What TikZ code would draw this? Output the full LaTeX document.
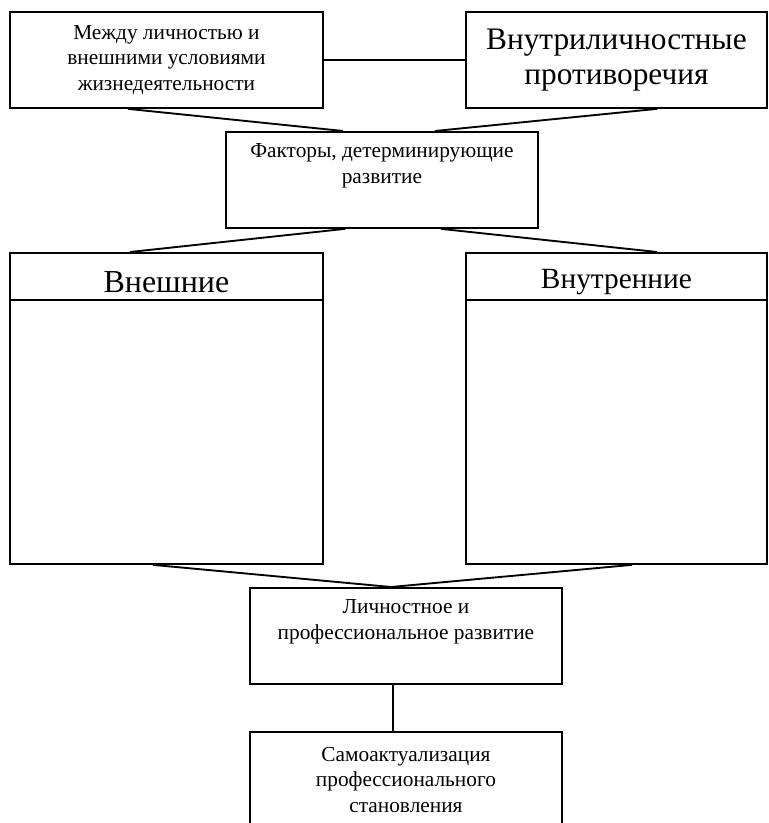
\documentclass[tikz,border=0pt]{standalone}
\usepackage{fontspec}
\setmainfont{Liberation Serif}
\usetikzlibrary{calc}
\newcommand{\px}{0.75pt}
\tikzset{
	box/.style={draw, line width=1.4pt, anchor=north west, align=center, inner sep=0pt, minimum width=312*\px, minimum height=96*\px},
	headbox/.style={box, minimum height=47*\px, text depth=0pt},
	smalltxt/.style={font=\fontsize{16}{19}\selectfont},
	bigtxt/.style={font=\fontsize{23.5}{26.5}\selectfont},
	conn/.style={draw, line width=1.4pt}
}

\begin{document}
\begin{tikzpicture}[x=0.75pt, y=-0.75pt]
	\useasboundingbox (0,0) rectangle (768,823);
	\clip (0,0) rectangle (768,823);
	% top row
	\node [box, smalltxt, minimum width=313*\px] (lich) at (9,11) {Между личностью и\\внешними условиями\\жизнедеятельности};
	\node [box, bigtxt, minimum width=301*\px] (vnutr) at (465,11) {Внутриличностные\\противоречия};
	\node [box, smalltxt] (fact) at (225,131) {Факторы, детерминирующие\\развитие\\\strut};
	% factor columns
	\node [headbox, font=\fontsize{24}{28}\selectfont, text height=24.8pt, minimum width=313*\px] (extHead) at (9,252) {Внешние};
	\node [box, minimum width=313*\px, minimum height=264*\px] (ext) at (9,299) {};
	\node [headbox, font=\fontsize{22}{26}\selectfont, text height=18.8pt, minimum width=301*\px] (intHead) at (465,252) {Внутренние};
	\node [box, minimum width=301*\px, minimum height=264*\px] (int) at (465,299) {};
	% result
	\node [box, smalltxt] (razv) at (249,587) {Личностное и\\профессиональное развитие\\\strut};
	\node [box, smalltxt] (samo) at (249,731) {Самоактуализация\\профессионального\\становления};

	\path [conn] (lich) -- (vnutr);
	\path [conn] ($(lich.south west)+(119,0)$) -- ($(fact.north west)+(118,0)$);
	\path [conn] ($(vnutr.south west)+(192,0)$) -- ($(fact.north west)+(210,0)$);
	\path [conn] ($(fact.south west)+(120,0)$) -- ($(extHead.north west)+(121,0)$);
	\path [conn] ($(fact.south west)+(216,0)$) -- ($(intHead.north west)+(192,0)$);
	\path [conn] ($(ext.south west)+(144,0)$) -- ($(razv.north west)+(142,0)$);
	\path [conn] ($(int.south west)+(167,0)$) -- ($(razv.north west)+(142,0)$);
	\path [conn] ($(razv.south west)+(144,0)$) -- ($(samo.north west)+(144,0)$);
\end{tikzpicture}
\end{document}
